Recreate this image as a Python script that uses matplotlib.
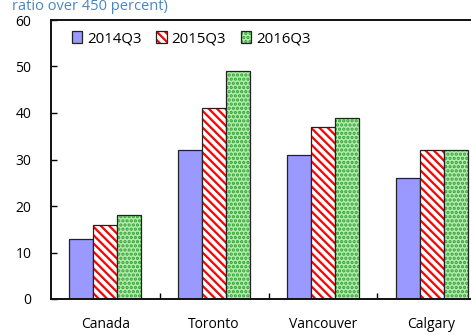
import matplotlib
matplotlib.use("Agg")
import matplotlib.pyplot as plt
import numpy as np
from matplotlib.patches import Patch
from matplotlib import colors as mcolors

plt.rcParams['font.family'] = ['Open Sans', 'DejaVu Sans']
plt.rcParams['hatch.linewidth'] = 1.6

cities = ["Canada", "Toronto", "Vancouver", "Calgary"]
series = ["2014Q3", "2015Q3", "2016Q3"]
v2014 = [13, 32, 31, 26]
v2015 = [16, 41, 37, 32]
v2016 = [18, 49, 39, 32]

faces = ["#9999ff", "white", "#b2ecae"]
hatches = [None, "\\\\\\\\", "...."]
hatch_cols = [None, "#ff0000", "#33a033"]

fig = plt.figure(figsize=(4.71, 3.35), dpi=100)
ax = fig.add_axes([51/471, 1-299/335, 435/471, 279/335])

x = np.arange(len(cities))
w = 0.22
handles = []
for i, (name, vals) in enumerate(zip(series, [v2014, v2015, v2016])):
    bars = ax.bar(x + (i - 1) * w, vals, w, color=faces[i], edgecolor="#222222",
                  linewidth=0.9, hatch=hatches[i], zorder=2)
    h = Patch(facecolor=faces[i], edgecolor="#222222", linewidth=0.9,
              hatch=hatches[i], label=name)
    if hatch_cols[i]:
        for b in bars:
            b._hatch_color = mcolors.to_rgba(hatch_cols[i])
        h._hatch_color = mcolors.to_rgba(hatch_cols[i])
    handles.append(h)

ax.set_xlim(-0.5, len(cities) - 0.5)
ax.set_ylim(0, 60)
ax.set_yticks(range(0, 61, 10))
ax.set_xticks(x)
ax.set_xticklabels(cities)
ax.set_xticks(np.arange(0.5, len(cities) - 0.5, 1), minor=True)
ax.tick_params(axis='x', which='major', length=0, pad=13, labelsize=10)
ax.tick_params(axis='x', which='minor', direction='in', length=4, width=1)
ax.tick_params(axis='y', direction='in', length=4, width=1, pad=14, labelsize=10)
for s in ax.spines.values():
    s.set_linewidth(1.4)
    s.set_color("#111111")

ax.legend(handles=handles, loc='upper left', bbox_to_anchor=(0.048, 0.96),
          ncol=3, frameon=False, fontsize=10.8, handlelength=0.7,
          handleheight=0.8, handletextpad=0.3, columnspacing=1.0,
          borderpad=0, borderaxespad=0)

fig.text(12/471, 1 - 10/335, "ratio over 450 percent)", color="#4a86c4",
         fontsize=10.5, va='baseline', ha='left')

fig.savefig("out.png", dpi=100)
